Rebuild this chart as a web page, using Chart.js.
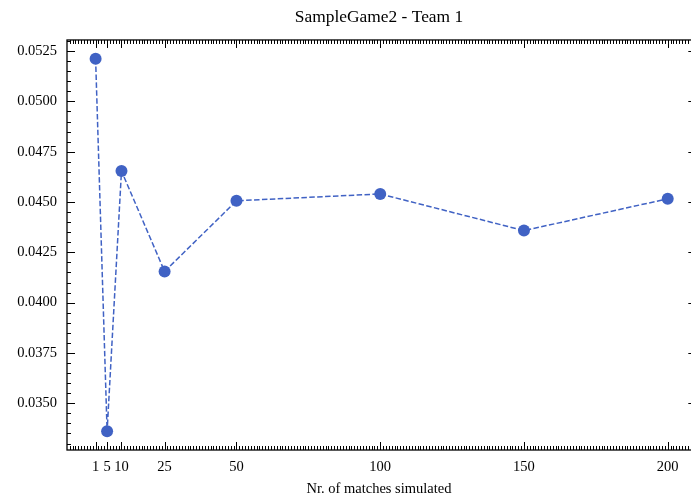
<!DOCTYPE html>
<html>
<head>
<meta charset="utf-8">
<script src="https://cdn.jsdelivr.net/npm/chart.js@4/dist/chart.umd.min.js"></script>
<style>
  html, body { margin: 0; padding: 0; overflow: hidden; background: #ffffff; }
  canvas { display: block; }
</style>
</head>
<body>
<canvas id="c" width="691" height="502"></canvas>
<script>
// Number of simulated matches and the resulting value for Team 1
const matches = [1, 5, 10, 25, 50, 100, 150, 200];
const values = [0.05212, 0.03361, 0.04654, 0.04155, 0.04506, 0.04540, 0.04358, 0.04516];

// Tick labels on both axes
const xTicks = [1, 5, 10, 25, 50, 100, 150, 200];
const yTicks = [0.0350, 0.0375, 0.0400, 0.0425, 0.0450, 0.0475, 0.0500, 0.0525];

const SERIF = "'Liberation Serif', 'Times New Roman', 'DejaVu Serif', serif";
const BASE = 14.5;
const BLUE = 'rgb(64, 98, 196)';
const X_MIN = -8.95, X_MAX = 208.1;   // the plot frame runs slightly past the canvas on the right
const RIGHT_SPINE = 209.95;

// Axis frame with inward ticks on all four sides (major + minor)
const frameTicks = {
  id: 'frameTicks',
  afterDatasetsDraw(chart) {
    const { ctx, chartArea: a, scales: { x, y } } = chart;
    const right = x.getPixelForValue(RIGHT_SPINE);
    ctx.save();
    ctx.strokeStyle = '#000';
    ctx.lineWidth = 1;
    ctx.beginPath();
    // x axis: minor every 1, majors at tick labels
    for (let v = Math.ceil(X_MIN); v <= Math.floor(RIGHT_SPINE); v++) {
      const px = Math.round(x.getPixelForValue(v)) + 0.5;
      const len = xTicks.includes(v) ? 8 : 4;
      ctx.moveTo(px, a.bottom); ctx.lineTo(px, a.bottom - len);
      ctx.moveTo(px, a.top); ctx.lineTo(px, a.top + len);
    }
    // y axis: minor every 0.0005
    for (let k = Math.ceil(y.min / 0.0005); k <= Math.floor(y.max / 0.0005); k++) {
      const v = k * 0.0005;
      const py = Math.round(y.getPixelForValue(v)) + 0.5;
      const len = (k % 5 === 0) ? 8 : 4;
      ctx.moveTo(a.left, py); ctx.lineTo(a.left + len, py);
      ctx.moveTo(right, py); ctx.lineTo(right - len, py);
    }
    ctx.stroke();
    ctx.lineWidth = 1.3;
    ctx.strokeRect(a.left, a.top, right - a.left, a.bottom - a.top);
    ctx.restore();
  }
};

new Chart(document.getElementById('c'), {
  type: 'line',
  data: {
    datasets: [{
      data: matches.map((m, i) => ({ x: m, y: values[i] })),
      borderColor: BLUE,
      backgroundColor: BLUE,
      borderWidth: 1.5,
      borderDash: [5.5, 2.4],
      pointRadius: 6,
      pointHoverRadius: 6,
      pointBorderWidth: 0,
      pointBackgroundColor: BLUE,
      tension: 0,
      fill: false,
      clip: false
    }]
  },
  options: {
    responsive: false,
    maintainAspectRatio: false,
    animation: false,
    devicePixelRatio: 1,
    layout: { padding: 0, autoPadding: false },
    plugins: {
      legend: { display: false },
      tooltip: { enabled: false },
      title: {
        display: true,
        fullSize: false,
        text: 'SampleGame2 - Team 1',
        color: '#000',
        font: { family: SERIF, size: 17.4, weight: 'normal', lineHeight: 1.2 },
        padding: { top: 6.8, bottom: 12.3 }
      }
    },
    scales: {
      x: {
        type: 'linear',
        min: X_MIN,
        max: X_MAX,
        grid: { display: false, drawTicks: false },
        border: { display: false },
        afterBuildTicks(scale) { scale.ticks = xTicks.map(v => ({ value: v })); },
        afterFit(scale) {
          scale.height = 52;
          // labels sit well inside the frame, so no extra side padding
          scale.paddingLeft = 0;
          scale.paddingRight = 0;
        },
        ticks: {
          autoSkip: false,
          maxRotation: 0,
          padding: 8,
          color: '#000',
          font: { family: SERIF, size: BASE },
          callback: v => String(v)
        },
        title: {
          display: true,
          text: 'Nr. of matches simulated',
          color: '#000',
          font: { family: SERIF, size: BASE, lineHeight: 1.2 },
          padding: { top: 0, bottom: 4 }
        }
      },
      y: {
        type: 'linear',
        min: 0.03268,
        max: 0.05305,
        grid: { display: false, drawTicks: false },
        border: { display: false },
        afterBuildTicks(scale) { scale.ticks = yTicks.map(v => ({ value: v })); },
        afterFit(scale) {
          scale.width = 67;
          scale.paddingTop = 0;
          scale.paddingBottom = 0;
        },
        ticks: {
          autoSkip: false,
          padding: 10,
          color: '#000',
          font: { family: SERIF, size: BASE },
          callback: v => Number(v).toFixed(4)
        }
      }
    }
  },
  plugins: [frameTicks]
});
</script>
</body>
</html>
